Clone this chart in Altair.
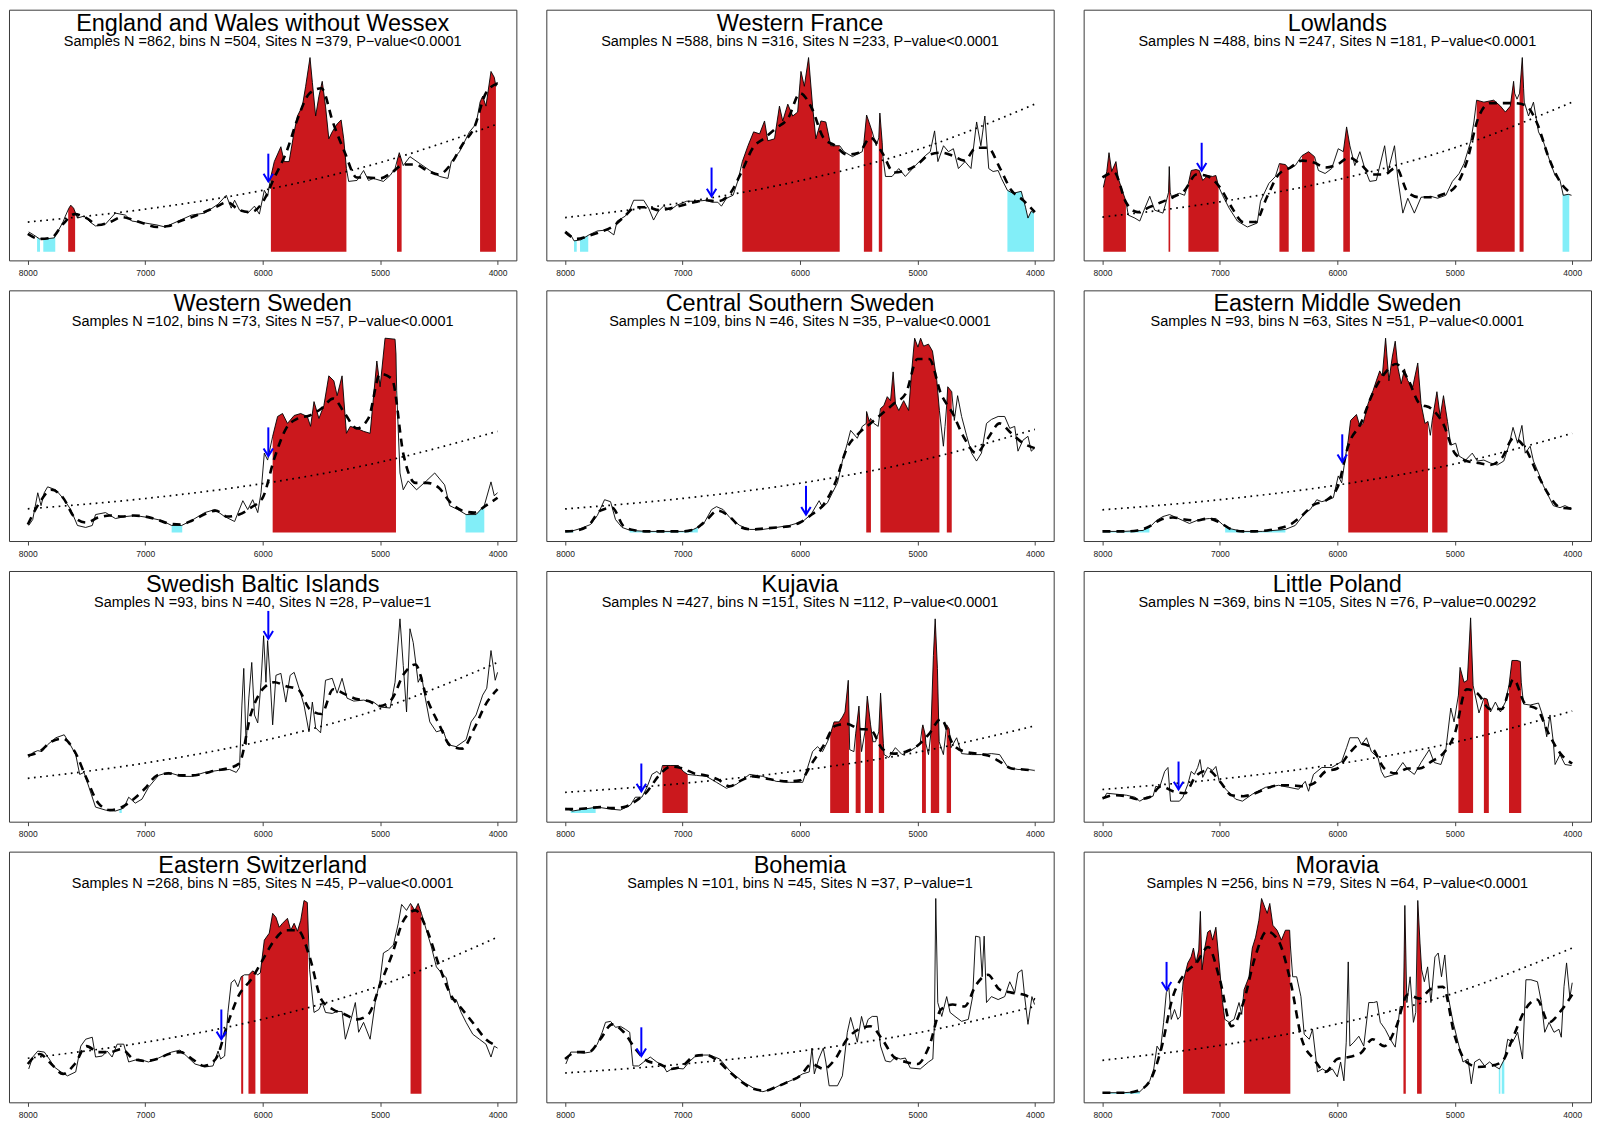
import altair as alt
import pandas as pd
import numpy as np

# ---------------- shared axes values ----------------
TICKS = [8000, 7000, 6000, 5000, 4000]
MEAN_YEARS = list(range(8000, 3999, -100))
TREND_YEARS = [8000, 7000, 6000, 5000, 4000]

# ---------------- England and Wales without Wessex ----------------
ENG_SPD = [(7992,20),(7950,17),(7900,13),(7850,13),(7775,14),(7700,30),(7680,36),(7650,44),(7634,47),(7610,44),(7577,34),(7521,36),(7470,30),(7423,26),(7338,28),(7254,39),(7169,37),(7113,31),(7000,29),(6900,27),(6831,25),(6718,31),(6606,37),(6493,39),(6380,48),(6310,57),(6268,44),(6239,52),(6197,42),(6127,39),(6070,46),(6028,38),(5986,62),(5958,56),(5930,76),(5901,91),(5845,106),(5817,91),(5775,91),(5732,121),(5704,137),(5662,147),(5634,167),(5597,196),(5577,171),(5549,137),(5521,157),(5493,172),(5465,147),(5437,114),(5408,121),(5366,129),(5332,133),(5310,114),(5287,84),(5268,71),(5197,72),(5141,82),(5099,72),(5056,74),(4972,71),(4915,77),(4873,84),(4837,100),(4803,87),(4746,96),(4662,89),(4577,82),(4493,76),(4423,74),(4394,91),(4324,101),(4239,121),(4183,129),(4149,151),(4127,157),(4099,147),(4056,182),(4028,176),(4014,167),(4000,171)]
ENG_MEAN = [18,13,14,28,38,34,27,30,35,32,28,25,26,31,35,40,45,50,42,40,50,75,100,135,160,165,130,100,75,75,74,80,88,88,82,78,88,108,125,160,170]
ENG_TREND = [30,43,62,90,129]
ENG_RED = [(7656,7597),(5930,5287),(4856,4817),(4149,4014)]
ENG_CYAN = [(7921,7896),(7868,7766)]
ENG_ARROW = (5952,71,99)

# ---------------- Western France ----------------
FRA_SPD = [(7994,21),(7952,17),(7924,11),(7867,12),(7797,17),(7726,21),(7642,22),(7585,17),(7557,31),(7487,36),(7444,44),(7416,52),(7331,52),(7289,44),(7247,32),(7205,41),(7162,46),(7106,42),(7049,47),(6965,51),(6880,51),(6796,52),(6753,50),(6700,50),(6669,46),(6626,54),(6570,57),(6528,72),(6491,91),(6443,107),(6395,121),(6344,119),(6302,132),(6274,112),(6217,114),(6175,147),(6147,132),(6104,149),(6062,137),(6020,141),(5992,182),(5963,167),(5927,196),(5893,147),(5865,114),(5822,132),(5780,131),(5738,107),(5662,107),(5625,101),(5554,96),(5470,101),(5456,110),(5433,138),(5410,130),(5385,121),(5351,107),(5329,115),(5320,140),(5300,110),(5295,97),(5272,76),(5216,76),(5159,84),(5103,76),(5018,87),(4933,97),(4891,101),(4854,122),(4826,91),(4778,107),(4736,101),(4694,104),(4651,84),(4595,91),(4544,84),(4496,131),(4460,107),(4426,137),(4393,84),(4356,81),(4313,82),(4285,74),(4234,62),(4186,59),(4116,61),(4080,45),(4059,34),(4031,41),(4008,39)]
FRA_MEAN = [20,13,16,20,25,35,45,45,42,44,47,50,52,51,58,80,105,115,125,135,160,145,115,107,98,100,115,100,80,82,88,98,100,97,92,105,105,85,62,52,40]
FRA_TREND = [34.5,49.7,71.7,103,149]
FRA_RED = [(6491,5662),(5456,5385),(5329,5300)]
FRA_CYAN = [(7924,7901),(7873,7803),(4234,4008)]
FRA_ARROW = (6753,56,85)

# ---------------- Lowlands ----------------
LOW_SPD = [(7992,65),(7963,81),(7944,100),(7921,81),(7885,91),(7865,74),(7823,59),(7800,51),(7780,37),(7724,34),(7682,31),(7639,44),(7597,56),(7555,42),(7485,39),(7456,51),(7437,60),(7431,86),(7423,60),(7414,56),(7344,59),(7301,57),(7268,69),(7244,82),(7203,83),(7175,82),(7146,72),(7104,77),(7062,76),(7034,77),(7011,66),(6977,57),(6921,44),(6851,31),(6766,25),(6682,29),(6654,51),(6583,69),(6527,76),(6493,89),(6442,88),(6414,84),(6358,87),(6301,97),(6245,101),(6194,96),(6161,82),(6104,79),(6048,84),(5992,104),(5949,101),(5921,126),(5893,107),(5851,87),(5808,101),(5766,84),(5724,71),(5668,72),(5597,107),(5569,81),(5513,107),(5485,74),(5442,39),(5400,54),(5344,39),(5287,55),(5203,56),(5146,54),(5076,57),(5020,71),(4963,79),(4921,89),(4865,111),(4837,131),(4814,153),(4752,151),(4668,153),(4611,147),(4569,141),(4527,147),(4499,172),(4490,160),(4470,154),(4448,160),(4425,196),(4414,165),(4408,151),(4372,137),(4330,151),(4287,121),(4245,111),(4189,91),(4146,77),(4104,72),(4076,57),(4034,58),(4006,57)]
LOW_MEAN = [75,80,50,40,45,50,55,62,78,76,65,45,30,30,55,78,85,92,90,85,88,95,88,78,78,85,60,55,55,58,65,90,135,150,150,150,148,130,95,70,58]
LOW_TREND = [35,50.4,72.7,105,151]
LOW_RED = [(7992,7800),(7437,7423),(7268,7011),(6493,6414),(6301,6194),(5949,5893),(4814,4490),(4448,4414)]
LOW_CYAN = [(4082,4025)]
LOW_ARROW = (7155,82,110)

# ---------------- Western Sweden ----------------
WSW_SPD = [(7992,7),(7958,13),(7915,40),(7887,27),(7860,40),(7831,46),(7761,43),(7690,33),(7634,23),(7577,7),(7507,5),(7451,7),(7423,18),(7338,20),(7254,14),(7169,16),(7085,17),(6972,15),(6859,12),(6775,7),(6690,7),(6606,12),(6493,20),(6408,23),(6324,16),(6239,11),(6169,32),(6127,23),(6085,33),(6042,20),(6014,40),(5986,80),(5958,73),(5915,97),(5873,117),(5831,120),(5789,110),(5732,118),(5676,120),(5620,117),(5592,107),(5563,132),(5521,115),(5479,128),(5437,158),(5394,153),(5366,138),(5324,158),(5287,100),(5254,107),(5197,105),(5141,102),(5085,100),(5056,137),(5028,173),(5000,147),(4958,196),(4873,195),(4865,180),(4859,143),(4831,60),(4803,43),(4761,52),(4690,43),(4606,52),(4535,60),(4451,48),(4408,27),(4338,23),(4268,18),(4183,18),(4113,27),(4056,51),(4028,37),(4000,40)]
WSW_MEAN = [8,30,43,35,15,10,15,17,16,17,16,13,9,8,12,18,22,16,18,25,35,75,105,115,118,125,135,120,105,115,160,155,78,50,50,45,30,22,20,27,35]
WSW_TREND = [23.8,34.2,49.3,70.9,102]
WSW_RED = [(5915,4865)]
WSW_CYAN = [(6775,6685),(4273,4113)]
WSW_ARROW = (5952,77,106)

# ---------------- Central Southern Sweden ----------------
CSS_SPD = [(7994,1),(7924,2),(7867,4),(7783,8),(7726,17),(7664,33),(7613,31),(7571,13),(7515,5),(7444,2),(7303,1),(7162,1),(6993,1),(6908,3),(6824,8),(6753,23),(6711,26),(6654,23),(6598,15),(6513,7),(6429,3),(6316,3),(6203,5),(6090,7),(5977,11),(5907,18),(5837,32),(5808,25),(5766,30),(5724,40),(5681,50),(5639,72),(5597,90),(5569,103),(5512,95),(5470,107),(5436,110),(5433,122),(5410,112),(5399,115),(5371,110),(5334,107),(5315,125),(5286,128),(5257,137),(5229,133),(5207,162),(5187,130),(5159,123),(5117,133),(5075,123),(5046,167),(5024,196),(4996,187),(4973,196),(4948,188),(4906,190),(4872,183),(4835,153),(4813,123),(4779,87),(4765,107),(4750,130),(4742,147),(4708,142),(4686,113),(4658,138),(4624,117),(4582,98),(4539,80),(4497,72),(4455,80),(4412,110),(4370,114),(4313,117),(4257,117),(4214,105),(4172,107),(4144,82),(4102,93),(4059,97),(4031,82),(4003,85)]
CSS_MEAN = [1,2,7,22,25,6,2,1,1,1,1,3,12,22,16,5,3,4,5,6,10,18,28,50,85,100,110,120,130,140,175,175,140,120,95,80,95,110,100,90,85]
CSS_TREND = [23.7,34.3,49.6,71.9,104]
CSS_RED = [(5436,5396),(5315,4813),(4750,4708)]
CSS_CYAN = [(7994,7930),(7450,6870)]
CSS_ARROW = (5949,18,47)

# ---------------- Eastern Middle Sweden ----------------
EMS_SPD = [(7992,1),(7823,1),(7654,2),(7583,7),(7541,12),(7485,16),(7428,18),(7372,15),(7315,12),(7259,9),(7175,13),(7090,14),(7034,14),(6977,8),(6921,4),(6808,1),(6639,1),(6442,3),(6358,7),(6273,20),(6231,23),(6175,33),(6132,31),(6076,33),(6034,35),(5992,57),(5963,50),(5930,77),(5907,93),(5887,113),(5837,119),(5808,107),(5780,110),(5738,130),(5696,143),(5668,153),(5639,163),(5617,158),(5589,196),(5561,153),(5532,177),(5507,193),(5485,167),(5456,150),(5428,165),(5400,153),(5358,147),(5315,171),(5287,130),(5254,110),(5228,112),(5208,98),(5192,113),(5152,142),(5124,117),(5096,138),(5062,112),(5034,88),(4992,90),(4963,77),(4907,73),(4851,80),(4808,72),(4752,73),(4696,70),(4639,68),(4583,72),(4541,87),(4504,106),(4465,90),(4428,108),(4400,80),(4358,87),(4330,72),(4287,60),(4245,47),(4203,37),(4161,27),(4104,25),(4062,27),(4006,24)]
EMS_MEAN = [1,1,1,2,6,13,15,13,12,14,10,3,1,1,2,4,8,17,28,32,45,90,110,140,160,170,155,130,125,110,80,72,70,68,75,95,85,60,38,25,24]
EMS_TREND = [22.8,33,47.8,69.1,100]
EMS_RED = [(5907,5228),(5192,5062)]
EMS_CYAN = [(7992,7600),(6955,6442)]
EMS_ARROW = (5958,71,99)

# ---------------- Swedish Baltic Islands ----------------
BAL_SPD = [(7992,56),(7958,61),(7915,63),(7879,62),(7831,69),(7761,76),(7690,79),(7648,71),(7592,59),(7558,39),(7521,41),(7479,26),(7423,6),(7338,3),(7254,2),(7183,5),(7141,16),(7085,10),(7028,14),(6972,26),(6887,38),(6803,41),(6690,37),(6606,37),(6493,41),(6380,43),(6282,44),(6225,41),(6197,46),(6177,109),(6161,146),(6141,69),(6118,116),(6093,152),(6070,99),(6042,91),(6014,132),(5992,179),(5972,132),(5958,174),(5935,132),(5915,89),(5887,139),(5845,141),(5803,112),(5766,139),(5732,142),(5690,126),(5648,109),(5606,82),(5577,112),(5549,86),(5507,81),(5465,134),(5408,136),(5366,121),(5324,136),(5282,116),(5225,113),(5141,114),(5056,112),(5000,107),(4915,106),(4873,132),(4831,196),(4803,149),(4775,102),(4746,186),(4718,172),(4676,132),(4648,139),(4620,119),(4577,92),(4521,82),(4465,84),(4423,69),(4352,67),(4268,74),(4225,92),(4183,99),(4127,119),(4092,126),(4056,164),(4020,134),(4000,142)]
BAL_MEAN = [58,62,72,75,62,35,10,3,6,14,25,38,40,38,38,40,43,45,50,100,125,132,128,125,105,100,125,120,115,113,108,115,140,150,115,90,68,65,85,110,125]
BAL_TREND = [35,50.5,72.9,105.2,152]
BAL_RED = []
BAL_CYAN = [(7220,7200)]
BAL_ARROW = (5952,176,204)

# ---------------- Kujavia ----------------
KUJ_SPD = [(7994,5),(7938,2),(7839,4),(7726,6),(7614,4),(7529,3),(7444,8),(7402,16),(7346,16),(7303,26),(7261,39),(7219,42),(7190,39),(7171,48),(7106,48),(7035,48),(6993,42),(6956,39),(6880,38),(6796,37),(6711,31),(6626,25),(6542,29),(6429,39),(6316,37),(6203,32),(6090,31),(5977,31),(5935,46),(5893,62),(5851,67),(5808,62),(5766,72),(5743,79),(5710,92),(5668,92),(5639,97),(5617,102),(5589,134),(5577,64),(5541,62),(5526,80),(5498,108),(5484,75),(5476,62),(5447,82),(5427,118),(5399,89),(5379,72),(5357,72),(5329,82),(5314,121),(5290,70),(5284,59),(5244,56),(5188,66),(5131,59),(5075,62),(5018,66),(4976,71),(4961,85),(4954,89),(4934,79),(4928,70),(4906,59),(4886,80),(4864,159),(4849,196),(4830,146),(4815,72),(4779,59),(4751,89),(4730,85),(4714,66),(4666,76),(4624,60),(4539,59),(4455,59),(4370,60),(4300,59),(4229,46),(4144,44),(4059,44),(4003,43)]
KUJ_MEAN = [4,4,5,6,5,6,12,22,38,47,45,40,38,34,27,33,37,35,33,32,33,50,68,88,90,85,84,65,60,62,68,80,95,70,62,60,58,52,45,44,43]
KUJ_TREND = [20.9,29.9,42.9,61.4,88]
KUJ_RED = [(7171,6956),(5743,5583),(5526,5484),(5447,5379),(5329,5284),(4961,4928),(4886,4815),(4751,4714)]
KUJ_CYAN = [(7952,7740)]
KUJ_ARROW = (7351,22,50)

# ---------------- Little Poland ----------------
LPL_SPD = [(7992,14),(7963,20),(7879,19),(7794,18),(7724,16),(7682,12),(7625,16),(7569,17),(7546,27),(7513,26),(7470,42),(7442,46),(7420,12),(7344,12),(7315,16),(7273,29),(7244,42),(7217,39),(7189,46),(7169,54),(7146,36),(7104,46),(7062,43),(7034,47),(7006,32),(6949,24),(6865,14),(6808,12),(6724,19),(6611,26),(6499,28),(6414,26),(6330,24),(6273,32),(6245,22),(6203,39),(6132,46),(6048,46),(5963,52),(5921,66),(5893,76),(5823,76),(5794,69),(5752,76),(5710,62),(5654,56),(5625,42),(5597,36),(5513,39),(5442,51),(5400,44),(5344,39),(5287,51),(5217,64),(5175,51),(5118,49),(5076,64),(5034,106),(5006,92),(4969,119),(4955,147),(4921,132),(4893,134),(4865,197),(4844,129),(4794,101),(4752,116),(4724,115),(4696,102),(4654,112),(4611,102),(4569,112),(4538,129),(4513,154),(4470,154),(4442,153),(4434,132),(4414,110),(4358,109),(4287,111),(4245,96),(4217,77),(4189,99),(4161,72),(4146,49),(4104,59),(4062,49),(4006,48)]
LPL_MEAN = [15,18,17,14,16,27,22,20,38,43,32,18,17,20,25,28,28,27,30,42,45,60,70,65,45,40,45,45,52,60,80,125,120,105,105,135,110,105,80,60,50]
LPL_TREND = [23.8,34.3,49.5,71.4,103]
LPL_RED = [(4969,4844),(4752,4710),(4538,4434)]
LPL_CYAN = []
LPL_ARROW = (7352,24,52)

# ---------------- Eastern Switzerland ----------------
ESW_SPD = [(7992,25),(7958,37),(7915,43),(7859,42),(7817,35),(7775,27),(7718,22),(7662,18),(7592,22),(7549,48),(7507,55),(7451,57),(7423,37),(7366,38),(7324,43),(7282,37),(7239,50),(7183,50),(7141,32),(7056,35),(6972,32),(6887,36),(6775,42),(6704,44),(6648,38),(6577,30),(6493,27),(6423,28),(6380,43),(6358,35),(6324,38),(6296,82),(6268,112),(6239,115),(6211,108),(6183,118),(6155,120),(6118,120),(6085,124),(6042,120),(6020,122),(5986,155),(5944,162),(5915,182),(5887,178),(5859,168),(5831,172),(5789,177),(5761,165),(5732,172),(5704,164),(5676,175),(5648,195),(5620,193),(5600,125),(5563,82),(5521,85),(5493,92),(5465,82),(5408,81),(5366,83),(5324,83),(5296,55),(5254,72),(5211,92),(5183,62),(5141,72),(5085,55),(5042,92),(5000,115),(4972,142),(4930,145),(4887,150),(4845,172),(4817,191),(4775,185),(4741,192),(4704,185),(4676,192),(4648,182),(4606,165),(4563,148),(4521,128),(4479,122),(4437,117),(4394,95),(4352,95),(4310,82),(4268,72),(4211,60),(4155,55),(4099,50),(4056,37),(4028,48),(4000,46)]
ESW_MEAN = [30,40,30,20,30,48,42,42,45,35,33,35,40,42,35,28,35,70,100,115,135,155,165,165,138,95,85,80,75,80,110,140,175,185,165,130,100,85,70,55,48]
ESW_TREND = [35.8,51.9,75.2,109,158]
ESW_RED = [(6183,6166),(6121,6062),(6020,5614),(4741,4648)]
ESW_CYAN = []
ESW_ARROW = (6352,55,85)

# ---------------- Bohemia ----------------
BOH_SPD = [(7994,30),(7952,42),(7896,42),(7839,41),(7783,42),(7726,50),(7684,62),(7656,72),(7613,73),(7571,67),(7529,68),(7487,65),(7450,62),(7422,28),(7374,28),(7331,32),(7275,37),(7219,32),(7162,28),(7134,22),(7078,26),(6993,25),(6937,33),(6880,39),(6767,39),(6683,35),(6598,23),(6485,12),(6372,4),(6316,2),(6231,5),(6147,10),(6062,14),(5977,20),(5921,22),(5898,46),(5878,20),(5841,35),(5802,46),(5780,32),(5752,8),(5681,8),(5639,18),(5597,62),(5569,77),(5541,65),(5512,52),(5476,78),(5448,65),(5420,75),(5385,78),(5343,78),(5314,48),(5272,33),(5230,32),(5188,37),(5146,35),(5103,36),(5061,26),(4976,25),(4906,32),(4869,35),(4855,72),(4844,197),(4827,92),(4793,78),(4751,98),(4722,82),(4680,78),(4624,73),(4567,75),(4530,98),(4505,159),(4469,158),(4449,118),(4432,159),(4412,92),(4370,98),(4313,95),(4257,98),(4214,113),(4172,102),(4144,122),(4110,125),(4087,98),(4059,70),(4025,98),(4003,90)]
BOH_MEAN = [35,42,42,55,70,62,45,33,30,25,28,38,39,33,22,12,5,3,7,12,18,30,25,35,55,65,68,55,37,32,30,48,85,90,88,110,120,105,102,100,95]
BOH_TREND = [20.9,29.9,42.9,61.4,88]
BOH_RED = []
BOH_CYAN = []
BOH_ARROW = (7351,38,67)

# ---------------- Moravia ----------------
MOR_SPD = [(7992,1),(7823,1),(7682,2),(7639,7),(7597,13),(7563,25),(7535,48),(7507,43),(7479,72),(7456,102),(7434,107),(7414,75),(7386,85),(7358,75),(7338,78),(7321,102),(7313,113),(7273,132),(7245,138),(7225,147),(7203,132),(7180,145),(7166,184),(7152,125),(7127,148),(7104,163),(7082,165),(7062,155),(7034,168),(7006,132),(6977,92),(6958,75),(6921,72),(6879,75),(6837,92),(6814,80),(6794,105),(6752,118),(6724,147),(6696,158),(6668,175),(6645,197),(6617,188),(6597,182),(6575,192),(6549,170),(6513,165),(6476,155),(6442,165),(6406,165),(6400,150),(6380,118),(6346,118),(6310,98),(6282,60),(6239,55),(6211,65),(6169,22),(6127,25),(6085,22),(6042,25),(6000,17),(5972,32),(5944,13),(5924,52),(5907,133),(5893,48),(5859,52),(5817,58),(5775,48),(5732,92),(5690,92),(5662,93),(5634,72),(5592,65),(5549,55),(5507,47),(5465,88),(5437,88),(5425,190),(5408,92),(5380,118),(5352,72),(5332,82),(5315,195),(5296,152),(5282,125),(5259,113),(5231,128),(5203,92),(5169,138),(5141,142),(5113,118),(5085,140),(5056,98),(5014,72),(4972,52),(4930,32),(4887,35),(4859,10),(4831,32),(4789,35),(4746,28),(4704,32),(4662,28),(4620,25),(4577,35),(4549,55),(4507,52),(4465,62),(4423,35),(4394,115),(4352,115),(4296,113),(4262,92),(4234,62),(4197,72),(4155,62),(4113,65),(4093,57),(4070,108),(4048,132),(4020,97),(4000,112)]
MOR_MEAN = [1,1,1,3,12,45,98,121,132,148,115,68,92,138,164,154,114,54,35,22,35,37,41,55,48,67,100,96,106,108,58,32,27,28,32,58,85,95,72,83,100]
MOR_TREND = [33.7,48.7,70.4,101.7,147]
MOR_RED = [(7313,6958),(6794,6400),(5437,5417),(5321,5282)]
MOR_CYAN = [(7992,7682),(4625,4612),(4600,4578)]
MOR_ARROW = (7454,105,133)

M = "\u2212"
PANELS = [
    ("England and Wales without Wessex", f"Samples N =862, bins N =504, Sites N =379, P{M}value<0.0001", ENG_SPD, ENG_MEAN, ENG_TREND, ENG_RED, ENG_CYAN, ENG_ARROW),
    ("Western France", f"Samples N =588, bins N =316, Sites N =233, P{M}value<0.0001", FRA_SPD, FRA_MEAN, FRA_TREND, FRA_RED, FRA_CYAN, FRA_ARROW),
    ("Lowlands", f"Samples N =488, bins N =247, Sites N =181, P{M}value<0.0001", LOW_SPD, LOW_MEAN, LOW_TREND, LOW_RED, LOW_CYAN, LOW_ARROW),
    ("Western Sweden", f"Samples N =102, bins N =73, Sites N =57, P{M}value<0.0001", WSW_SPD, WSW_MEAN, WSW_TREND, WSW_RED, WSW_CYAN, WSW_ARROW),
    ("Central Southern Sweden", f"Samples N =109, bins N =46, Sites N =35, P{M}value<0.0001", CSS_SPD, CSS_MEAN, CSS_TREND, CSS_RED, CSS_CYAN, CSS_ARROW),
    ("Eastern Middle Sweden", f"Samples N =93, bins N =63, Sites N =51, P{M}value<0.0001", EMS_SPD, EMS_MEAN, EMS_TREND, EMS_RED, EMS_CYAN, EMS_ARROW),
    ("Swedish Baltic Islands", f"Samples N =93, bins N =40, Sites N =28, P{M}value=1", BAL_SPD, BAL_MEAN, BAL_TREND, BAL_RED, BAL_CYAN, BAL_ARROW),
    ("Kujavia", f"Samples N =427, bins N =151, Sites N =112, P{M}value<0.0001", KUJ_SPD, KUJ_MEAN, KUJ_TREND, KUJ_RED, KUJ_CYAN, KUJ_ARROW),
    ("Little Poland", f"Samples N =369, bins N =105, Sites N =76, P{M}value=0.00292", LPL_SPD, LPL_MEAN, LPL_TREND, LPL_RED, LPL_CYAN, LPL_ARROW),
    ("Eastern Switzerland", f"Samples N =268, bins N =85, Sites N =45, P{M}value<0.0001", ESW_SPD, ESW_MEAN, ESW_TREND, ESW_RED, ESW_CYAN, ESW_ARROW),
    ("Bohemia", f"Samples N =101, bins N =45, Sites N =37, P{M}value=1", BOH_SPD, BOH_MEAN, BOH_TREND, BOH_RED, BOH_CYAN, BOH_ARROW),
    ("Moravia", f"Samples N =256, bins N =79, Sites N =64, P{M}value<0.0001", MOR_SPD, MOR_MEAN, MOR_TREND, MOR_RED, MOR_CYAN, MOR_ARROW),
]

W, H = 508, 251
FONT = "Liberation Sans"
RED = "#CB181D"
CYAN = "#82EEF8"

XSC = alt.Scale(domain=[3840, 8160], reverse=True, nice=False, zero=False)
YSC = alt.Scale(domain=[-8.7, 244.3], nice=False, zero=False)
XAX = alt.Axis(values=TICKS, format="d", grid=False, domain=False, ticks=True,
               tickSize=4, tickColor="#444", tickWidth=1, labelFontSize=8.5,
               labelColor="#222", labelPadding=4, labelFont=FONT, title=None,
               labelFlush=False)


def X(field="year"):
    return alt.X(f"{field}:Q", scale=XSC, axis=XAX, title=None)


def Y(field="v"):
    return alt.Y(f"{field}:Q", scale=YSC, axis=None, title=None)


def band_frame(spd, intervals):
    yrs = np.array([p[0] for p in spd], float)
    vals = np.array([p[1] for p in spd], float)
    o = np.argsort(yrs)
    ys, vs = yrs[o], vals[o]
    rows = []
    for i, (a, b) in enumerate(intervals):
        pts = [a] + [y for y in yrs if b < y < a] + [b]
        for y in pts:
            rows.append({"year": float(y), "v": float(np.interp(y, ys, vs)), "seg": i, "base": 0.0})
    return pd.DataFrame(rows, columns=["year", "v", "seg", "base"])


def panel(title, sub, spd, mean, trend, red, cyan, arrow):
    layers = []
    spd_df = pd.DataFrame(spd, columns=["year", "v"])
    cy = band_frame(spd, cyan)
    if len(cy):
        layers.append(alt.Chart(cy).mark_area(color=CYAN, opacity=1).encode(
            x=X(), y=Y(), y2="base:Q", detail="seg:N"))
    rd = band_frame(spd, red)
    if len(rd):
        layers.append(alt.Chart(rd).mark_area(color=RED, opacity=1).encode(
            x=X(), y=Y(), y2="base:Q", detail="seg:N"))
    tr = pd.DataFrame({"year": TREND_YEARS, "v": trend})
    layers.append(alt.Chart(tr).mark_line(color="black", strokeWidth=1.7, strokeDash=[1.7, 4.5],
                                          interpolate="monotone").encode(x=X(), y=Y()))
    mn = pd.DataFrame({"year": MEAN_YEARS, "v": mean})
    layers.append(alt.Chart(mn).mark_line(color="black", strokeWidth=2.6, strokeDash=[8, 6],
                                          interpolate="monotone").encode(x=X(), y=Y()))
    layers.append(alt.Chart(spd_df).mark_line(color="black", strokeWidth=0.9).encode(x=X(), y=Y()))
    ar = pd.DataFrame({"year": [arrow[0]], "tip": [arrow[1]], "top": [arrow[2]]})
    layers.append(alt.Chart(ar).mark_rule(color="#0000FF", strokeWidth=2).encode(
        x=X(), y=Y("top"), y2="tip:Q"))
    layers.append(alt.Chart(ar).mark_point(shape="M-1,-1.6L0,0L1,-1.6", size=90, filled=False,
                                           stroke="#0000FF", strokeWidth=2, opacity=1).encode(
        x=X(), y=Y("tip")))
    t = pd.DataFrame({"t": [title]})
    layers.append(alt.Chart(t).mark_text(font=FONT, fontSize=23.5, color="black", align="center",
                                         baseline="alphabetic").encode(
        text="t:N", x=alt.value(W / 2), y=alt.value(21)))
    s = pd.DataFrame({"t": [sub]})
    layers.append(alt.Chart(s).mark_text(font=FONT, fontSize=14.5, color="black", align="center",
                                         baseline="alphabetic").encode(
        text="t:N", x=alt.value(W / 2), y=alt.value(36)))
    return alt.layer(*layers).properties(width=W, height=H)


charts = [panel(*p) for p in PANELS]
chart = alt.concat(*charts, columns=3, spacing={"row": 30, "column": 30}, bounds="flush").properties(
    padding={"left": 0, "top": 0, "right": 0, "bottom": 0}
).configure_view(stroke="#3a3a3a", strokeWidth=1)

chart.save("out.html", embed_options={"renderer": "svg", "actions": False})
